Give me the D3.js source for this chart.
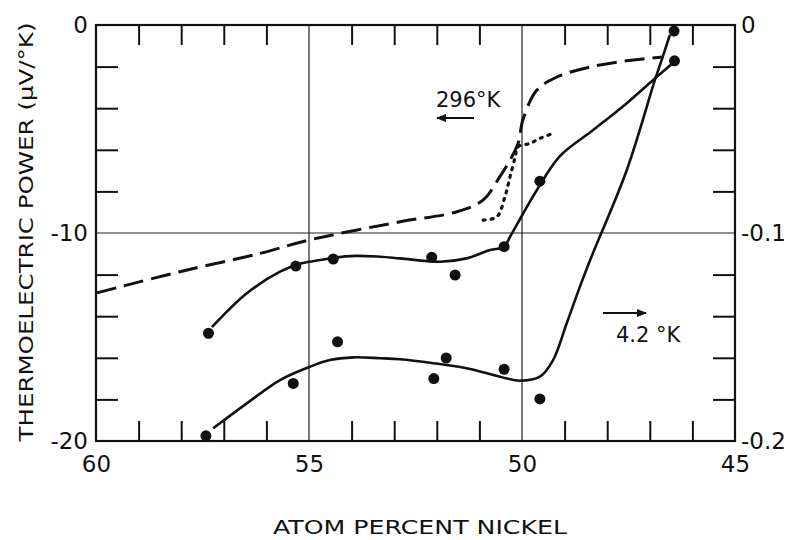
<!DOCTYPE html>
<html>
<head>
<meta charset="utf-8">
<script src="https://cdn.jsdelivr.net/npm/d3@7"></script>
<style>
  body { margin: 0; background: #fff; }
  text { font-family: "DejaVu Sans", "Liberation Sans", sans-serif; fill: #111; }
</style>
</head>
<body>
<div id="chart"></div>
<script>
// chart values
// x = atom percent nickel, 296 K curves on the left axis (µV/°K), 4.2 K on the right axis
const dashed296 = [
  [59.98, -12.88], [58.03, -11.86], [56.15, -10.98], [55.0, -10.34],
  [52.86, -9.46], [51.53, -8.98], [50.91, -8.41], [50.52, -7.29],
  [50.28, -6.49], [50.09, -5.69], [49.98, -4.57], [49.65, -3.13],
  [49.18, -2.50], [48.40, -2.02], [47.39, -1.68], [46.69, -1.54]
];
const dotted296 = [
  [50.91, -9.38], [50.59, -9.22], [50.40, -8.25], [50.28, -7.29],
  [50.16, -6.35], [50.09, -5.85], [49.81, -5.69], [49.58, -5.45], [49.27, -5.21]
];
// 4.2 K, upper curve (fit) and its points
const upperFit = [
  [57.28, -0.1453], [56.46, -0.1290], [55.68, -0.1186], [55.17, -0.1146],
  [54.74, -0.1130], [54.04, -0.1111], [53.33, -0.1114], [52.86, -0.1122],
  [51.92, -0.1138], [51.30, -0.1122], [50.75, -0.1082], [50.42, -0.1066],
  [50.28, -0.1018], [49.97, -0.0905], [49.65, -0.0793], [49.11, -0.0630],
  [48.33, -0.0505], [47.54, -0.0376], [46.92, -0.0264], [46.60, -0.0208], [46.45, -0.0180]
];
const upperPts = [
  [57.36, -0.1482], [55.31, -0.1159], [54.43, -0.1125], [52.12, -0.1117],
  [51.57, -0.1202], [50.42, -0.1066], [49.58, -0.0751], [46.42, -0.0172]
];
// 4.2 K, lower curve (fit) and its points
const lowerFit = [
  [57.25, -0.1939], [56.46, -0.1819], [55.68, -0.1707], [54.98, -0.1643],
  [54.51, -0.1611], [53.96, -0.1598], [53.33, -0.1602], [52.86, -0.1607],
  [52.08, -0.1626], [51.30, -0.1650], [50.52, -0.1691], [50.05, -0.1710],
  [49.58, -0.1691], [49.27, -0.1611], [48.95, -0.1434], [48.64, -0.1258],
  [48.40, -0.1130], [47.54, -0.0697], [46.88, -0.0264], [46.76, -0.0192], [46.53, -0.0048]
];
const lowerPts = [
  [57.42, -0.1975], [55.37, -0.1723], [54.33, -0.1523], [52.07, -0.1700],
  [51.78, -0.1601], [50.42, -0.1655], [49.58, -0.1798], [46.43, -0.0029]
];

const xLabels = [60, 55, 50, 45];
const leftLabels = [0, -10, -20];
const rightLabels = [0, -0.1, -0.2];
const xGrid = [55, 50];
const yGrid = [-10];

const width = 796, height = 540;
const margin = { top: 25, right: 61, bottom: 99, left: 96 };

const svg = d3.select("#chart").append("svg")
  .attr("width", width)
  .attr("height", height);

const x = d3.scaleLinear([60, 45], [margin.left, width - margin.right]);
const yL = d3.scaleLinear([-20, 0], [height - margin.bottom, margin.top]);
const yR = d3.scaleLinear([-0.2, 0], [height - margin.bottom, margin.top]);

const x0 = margin.left, x1 = width - margin.right;
const y0 = margin.top, y1 = height - margin.bottom;

// grid lines
svg.selectAll("line.vgrid")
  .data(xGrid)
  .join("line")
  .attr("class", "vgrid")
  .attr("x1", d => x(d)).attr("x2", d => x(d))
  .attr("y1", y0).attr("y2", y1)
  .attr("stroke", "#222").attr("stroke-width", 1.2);

svg.selectAll("line.hgrid")
  .data(yGrid)
  .join("line")
  .attr("class", "hgrid")
  .attr("x1", x0).attr("x2", x1)
  .attr("y1", d => yL(d)).attr("y2", d => yL(d))
  .attr("stroke", "#222").attr("stroke-width", 1.2);

// inner ticks
const minorX = d3.range(59, 45, -1).filter(d => d !== 55 && d !== 50);
const minorY = d3.range(-18, 0, 2).filter(d => d !== -10);

function styleTicks(g) {
  g.select(".domain").remove();
  g.selectAll(".tick line").attr("stroke", "#111").attr("stroke-width", 2);
  g.selectAll(".tick text").remove();
}

svg.append("g").attr("transform", `translate(0,${y0})`)
  .call(d3.axisBottom(x).tickValues(minorX).tickSize(20))
  .call(styleTicks);
svg.append("g").attr("transform", `translate(0,${y1})`)
  .call(d3.axisTop(x).tickValues(minorX).tickSize(20))
  .call(styleTicks);
svg.append("g").attr("transform", `translate(${x0},0)`)
  .call(d3.axisRight(yL).tickValues(minorY).tickSize(22))
  .call(styleTicks);
svg.append("g").attr("transform", `translate(${x1},0)`)
  .call(d3.axisLeft(yL).tickValues(minorY).tickSize(22))
  .call(styleTicks);

// frame
svg.append("rect")
  .attr("x", x0).attr("y", y0)
  .attr("width", x1 - x0).attr("height", y1 - y0)
  .attr("fill", "none").attr("stroke", "#111").attr("stroke-width", 2.2);

// tick labels
function labelAxis(g) {
  g.select(".domain").remove();
  g.selectAll(".tick line").remove();
  g.selectAll(".tick text").style("font-size", "23px").attr("fill", "#111");
}
const fmt = d => d === 0 ? "0" : (d < 0 ? "-" : "") + Math.abs(d);

svg.append("g").attr("transform", `translate(0,${y1})`)
  .call(d3.axisBottom(x).tickValues(xLabels).tickSize(0).tickPadding(15).tickFormat(fmt))
  .call(labelAxis);
svg.append("g").attr("transform", `translate(${x0},0)`)
  .call(d3.axisLeft(yL).tickValues(leftLabels).tickSize(0).tickPadding(8).tickFormat(fmt))
  .call(labelAxis);
svg.append("g").attr("transform", `translate(${x1},0)`)
  .call(d3.axisRight(yR).tickValues(rightLabels).tickSize(0).tickPadding(6).tickFormat(fmt))
  .call(labelAxis);

// curves
const line296 = d3.line().x(d => x(d[0])).y(d => yL(d[1])).curve(d3.curveCatmullRom.alpha(0.5));
const line42 = d3.line().x(d => x(d[0])).y(d => yR(d[1])).curve(d3.curveCatmullRom.alpha(0.5));

svg.append("path").datum(dashed296)
  .attr("d", line296).attr("fill", "none")
  .attr("stroke", "#111").attr("stroke-width", 3)
  .attr("stroke-dasharray", "20,8");

svg.append("path").datum(dotted296)
  .attr("d", line296).attr("fill", "none")
  .attr("stroke", "#111").attr("stroke-width", 3.2)
  .attr("stroke-linecap", "round")
  .attr("stroke-dasharray", "2,6");

svg.selectAll("path.fit")
  .data([upperFit, lowerFit])
  .join("path")
  .attr("class", "fit")
  .attr("d", line42).attr("fill", "none")
  .attr("stroke", "#111").attr("stroke-width", 2.6);

svg.selectAll("circle.pt")
  .data(upperPts.concat(lowerPts))
  .join("circle")
  .attr("class", "pt")
  .attr("cx", d => x(d[0]))
  .attr("cy", d => yR(d[1]))
  .attr("r", 5.5)
  .attr("fill", "#111");

// annotations with arrows
svg.append("defs").append("marker")
  .attr("id", "head")
  .attr("viewBox", "0 0 10 10")
  .attr("refX", 9).attr("refY", 5)
  .attr("markerWidth", 5).attr("markerHeight", 5)
  .attr("orient", "auto")
  .append("path").attr("d", "M0,1 L10,5 L0,9 Z").attr("fill", "#111");

svg.append("text").attr("x", 436).attr("y", 107)
  .style("font-size", "21px").text("296°K");
svg.append("line")
  .attr("x1", 474).attr("x2", 437).attr("y1", 118).attr("y2", 118)
  .attr("stroke", "#111").attr("stroke-width", 2)
  .attr("marker-end", "url(#head)");

svg.append("text").attr("x", 616).attr("y", 342)
  .style("font-size", "21px").text("4.2 °K");
svg.append("line")
  .attr("x1", 603).attr("x2", 646).attr("y1", 313).attr("y2", 313)
  .attr("stroke", "#111").attr("stroke-width", 2)
  .attr("marker-end", "url(#head)");

// axis titles
svg.append("text")
  .attr("x", 420).attr("y", 534)
  .attr("text-anchor", "middle")
  .attr("textLength", 294).attr("lengthAdjust", "spacingAndGlyphs")
  .style("font-size", "20px")
  .text("ATOM PERCENT NICKEL");

svg.append("text")
  .attr("transform", "translate(33,232) rotate(-90)")
  .attr("text-anchor", "middle")
  .attr("textLength", 419).attr("lengthAdjust", "spacingAndGlyphs")
  .style("font-size", "20px")
  .text("THERMOELECTRIC POWER (μV/°K)");
</script>
</body>
</html>
